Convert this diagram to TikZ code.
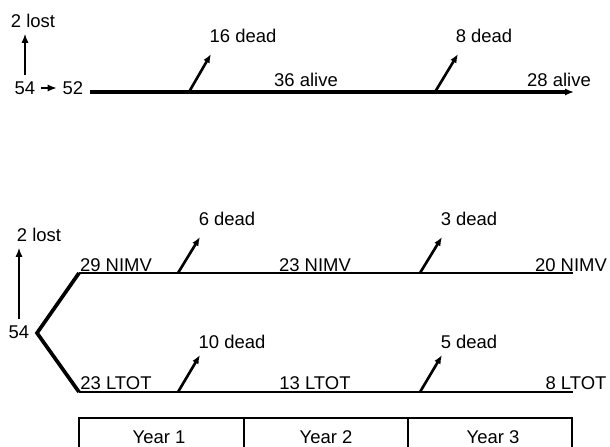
\documentclass[tikz,border=0pt]{standalone}
\usepackage{fontspec}
\setmainfont{Liberation Sans}
\usetikzlibrary{arrows.meta}
\begin{document}
\begin{tikzpicture}[x=0.02cm,y=-0.02cm,>={Latex[length=5pt,width=4pt]},
  font=\fontsize{10.5}{12}\selectfont,
  trunk/.style={line width=2pt},
  arm/.style={line width=1.5pt},
  fork/.style={line width=2.1pt, line join=miter},
  death/.style={line width=1.5pt, ->},
  lost/.style={line width=0.7pt, ->},
  grid/.style={line width=1.3pt}]
\useasboundingbox (0,0) rectangle (610,447);

% single group
\node[] (L1) at (33,21) {2 lost};
\node[] (S1) at (25,88) {54};
\node[] (T1) at (73,88) {52};
\node[] (D1) at (243,36) {16 dead};
\node[] (D2) at (484,36) {8 dead};
\node[] (A1) at (306,80) {36 alive};
\node[] (A2) at (559,80) {28 alive};

\coordinate (a0) at (90,92);
\coordinate (a1) at (189,92);
\coordinate (a2) at (435,92);
\coordinate (a3) at (574,92);
\coordinate (t1) at (211,54);
\coordinate (t2) at (458,54);

\draw[lost] (S1.north) -- (S1.north |- L1.south);
\draw[lost] (S1.east) -- (T1.west);
\draw[trunk, ->] (a0) -- (a3);
\draw[death] (a1) -- (t1);
\draw[death] (a2) -- (t2);

% randomised groups
\node[] (L2) at (39,235) {2 lost};
\node[] (S2) at (19,332) {54};
\node[] (N1) at (116,265) {29 NIMV};
\node[] (N2) at (315,265) {23 NIMV};
\node[] (N3) at (571,265) {20 NIMV};
\node[] (O1) at (116,383) {23 LTOT};
\node[] (O2) at (315,383) {13 LTOT};
\node[] (O3) at (576,383) {8 LTOT};
\node[] (E1) at (227,219) {6 dead};
\node[] (E2) at (469,219) {3 dead};
\node[] (F1) at (232,342) {10 dead};
\node[] (F2) at (469,342) {5 dead};

\coordinate (b0) at (37,333);
\coordinate (n0) at (79,273);
\coordinate (n1) at (178,273);
\coordinate (n2) at (420,273);
\coordinate (n3) at (573,273);
\coordinate (o0) at (79,392);
\coordinate (o1) at (178,392);
\coordinate (o2) at (420,392);
\coordinate (o3) at (573,392);
\coordinate (u1) at (200,237);
\coordinate (u2) at (442,237);
\coordinate (v1) at (200,355);
\coordinate (v2) at (442,355);

\draw[lost] (S2.north) -- (S2.north |- L2.south);
\draw[fork] (n0) -- (b0) -- (o0);
\draw[arm] (n0) -- (n3);
\draw[arm] (o0) -- (o3);
\draw[death] (n1) -- (u1);
\draw[death] (n2) -- (u2);
\draw[death] (o1) -- (v1);
\draw[death] (o2) -- (v2);

% time scale
\draw[grid] (79,450) -- (79,418) -- (572,418) -- (572,450);
\draw[grid] (244,418) -- (244,450);
\draw[grid] (408,418) -- (408,450);
\node[] (Y1) at (159,437) {Year 1};
\node[] (Y2) at (326,437) {Year 2};
\node[] (Y3) at (493,437) {Year 3};

\end{tikzpicture}
\end{document}
